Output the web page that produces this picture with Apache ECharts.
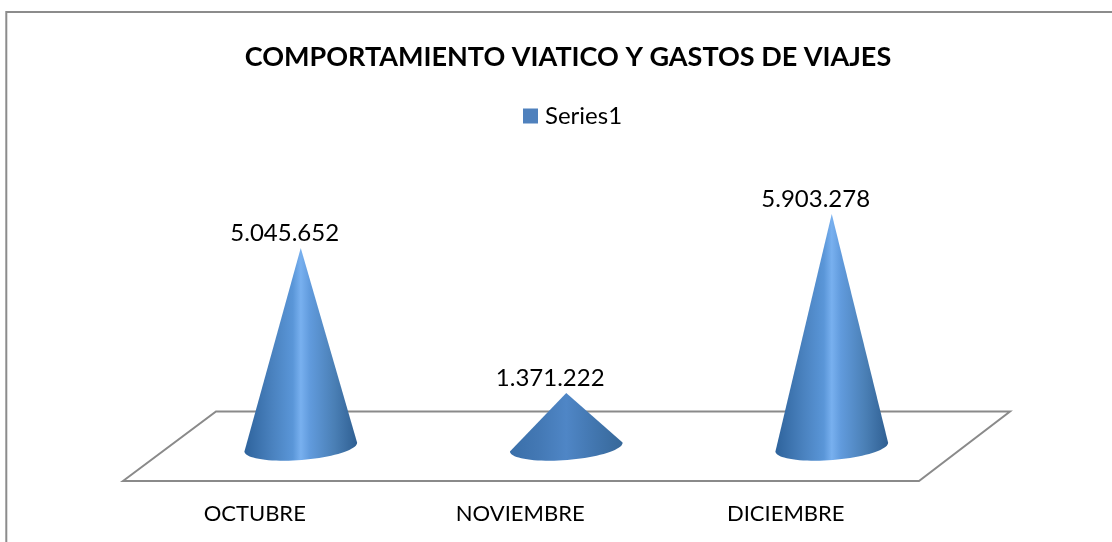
<!DOCTYPE html>
<html>
<head>
<meta charset="utf-8">
<style>
  html, body { margin: 0; padding: 0; background: #fff; }
  #chart { width: 1112px; height: 542px; }
</style>
<script src="https://cdn.jsdelivr.net/npm/echarts@6/dist/echarts.min.js"></script>
</head>
<body>
<div id="chart"></div>
<script>
const months = ['OCTUBRE', 'NOVIEMBRE', 'DICIEMBRE'];
const gastos = [5045652, 1371222, 5903278];

const fmt = v => String(v).replace(/\B(?=(\d{3})+$)/g, '.');
const font = 'Lato';

const chart = echarts.init(document.getElementById('chart'));

// cone: tilted base ellipse + apex, all from the axis coords
const renderCone = (params, api) => {
  const base = api.coord([api.value(0), 0]);
  const top = api.coord([api.value(0), api.value(1)]);
  const rx = 56.5, ry = 13, tilt = -0.08;
  const cx = base[0], cy = base[1];
  const pts = [[top[0], top[1]]];
  for (let i = 0; i <= 40; i++) {
    const a = Math.PI * i / 40;
    const ex = rx * Math.cos(a), ey = ry * Math.sin(a);
    pts.push([
      cx + ex * Math.cos(tilt) - ey * Math.sin(tilt),
      cy + ex * Math.sin(tilt) + ey * Math.cos(tilt)
    ]);
  }
  const low = cy - top[1] < 100;
  const stops = low ? [
    {offset: 0, color: '#3a6fa9'},
    {offset: 0.25, color: '#4378b4'},
    {offset: 0.5, color: '#4f86c6'},
    {offset: 0.75, color: '#4276af'},
    {offset: 1, color: '#376899'}
  ] : [
    {offset: 0, color: '#2e639c'},
    {offset: 0.25, color: '#4a82bf'},
    {offset: 0.43, color: '#5a96d8'},
    {offset: 0.5, color: '#78b0ef'},
    {offset: 0.58, color: '#619bdd'},
    {offset: 0.8, color: '#4a7fb5'},
    {offset: 1, color: '#2f5f92'}
  ];
  return {
    type: 'group',
    children: [
      {
        type: 'polygon',
        shape: {points: pts},
        style: {
          fill: new echarts.graphic.LinearGradient(0, 0, 1, 0, stops)
        }
      },
      {
        type: 'text',
        x: top[0] - 16,
        y: top[1] - 15,
        style: {
          text: fmt(api.value(1)),
          font: '24px ' + font,
          fill: '#000',
          align: 'center',
          verticalAlign: 'middle'
        }
      }
    ]
  };
};

chart.setOption({
  animation: false,
  backgroundColor: '#fff',
  title: {
    text: 'COMPORTAMIENTO VIATICO Y GASTOS DE VIAJES',
    left: 563,
    top: 39,
    textAlign: 'center',
    textStyle: {fontFamily: font, fontSize: 27, fontWeight: 'bold', color: '#000'}
  },
  legend: {
    data: [{name: 'Series1', icon: 'rect', itemStyle: {color: '#4f81bd'}}],
    left: 518,
    top: 99,
    itemWidth: 15,
    itemHeight: 15,
    textStyle: {fontFamily: font, fontSize: 24, color: '#000', padding: [0, 0, 0, 2]}
  },
  grid: {left: 168, width: 796.5, top: 210.3, height: 236.7},
  xAxis: {
    type: 'category',
    data: months,
    axisLine: {show: false},
    axisTick: {show: false},
    axisLabel: {
      margin: 56,
      padding: [0, 92, 0, 0],
      interval: 0,
      fontFamily: font,
      fontSize: 22,
      color: '#000'
    }
  },
  yAxis: {type: 'value', min: 0, max: 6000000, show: false},
  graphic: [
    {
      type: 'rect',
      z: 0,
      shape: {x: 6.3, y: 12, width: 1200, height: 600},
      style: {fill: 'none', stroke: '#8c8c8c', lineWidth: 2}
    },
    {
      type: 'polygon',
      z: 0,
      shape: {points: [[123, 481], [216, 411.5], [1010, 411.5], [919, 481]]},
      style: {fill: 'none', stroke: '#8a8a8a', lineWidth: 2}
    }
  ],
  series: [{
    name: 'Series1',
    type: 'custom',
    z: 5,
    clip: false,
    renderItem: renderCone,
    encode: {x: 0, y: 1},
    data: months.map((m, i) => [i, gastos[i]])
  }]
});
</script>
</body>
</html>
